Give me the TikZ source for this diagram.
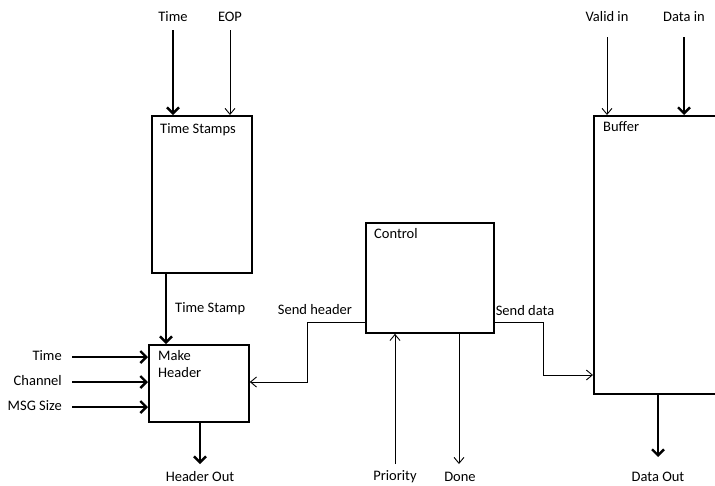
\documentclass[tikz,border=0pt]{standalone}
\usepackage{fontspec}
\setmainfont{Carlito}
\usetikzlibrary{arrows.meta}
\begin{document}
\begin{tikzpicture}[x=1pt,y=-1pt,
  every node/.style={font=\fontsize{14.5}{17}\selectfont, inner sep=0pt},
  block/.style={draw, line width=1.8pt, anchor=north west, inner sep=0pt},
  sig/.style={line width=0.9pt, -{Straight Barb[length=6pt,width=10pt,line width=0.9pt]}},
  bus/.style={line width=2.6pt, -{Straight Barb[length=6pt,width=12pt,line width=2.4pt]}},
  lbl/.style={anchor=center},
  intxt/.style={anchor=north west, align=left}]
\useasboundingbox (0,0) rectangle (715,485);
\begin{scope}
\clip (0,0) rectangle (715,485);

% blocks
\node[block, minimum width=100pt, minimum height=157pt] (ts) at (151,115) {};
\node[block, minimum width=100pt, minimum height=77pt] (mh) at (148,344) {};
\node[block, minimum width=128pt, minimum height=110pt] (ctl) at (365,222) {};
\node[block, minimum width=160pt, minimum height=278pt] (buf) at (593,115) {};

% block titles
\node[intxt] at (160,123) {Time Stamps};
\node[intxt, align=left] at (158,350) {Make\\[0pt]Header};
\node[intxt] at (374,228) {Control};
\node[intxt] at (603,121) {Buffer};

% Time Stamps inputs
\node[lbl] (tin) at (173,17) {Time};
\node[lbl] (eop) at (230,17) {EOP};
\coordinate (tinS) at (173,30);
\coordinate (eopS) at (230,30);
\draw[bus] (tinS) -- (tinS |- ts.north);
\draw[sig] (eopS) -- (eopS |- ts.north);

% Time Stamp link
\coordinate (tsx) at (166,272);
\draw[bus] (tsx) -- (tsx |- mh.north);
\node[anchor=west] (tsl) at (175,309) {Time Stamp};

% Make Header inputs
\node[anchor=east] (mt) at (62,356) {Time};
\node[anchor=east] (mc) at (62,381) {Channel};
\node[anchor=east] (ms) at (62,406) {MSG Size};
\coordinate (mtS) at (72,357);
\coordinate (mcS) at (72,382);
\coordinate (msS) at (72,407);
\draw[bus] (mtS) -- (mtS -| mh.west);
\draw[bus] (mcS) -- (mcS -| mh.west);
\draw[bus] (msS) -- (msS -| mh.west);

% Header Out
\node[lbl] (ho) at (200,477) {Header Out};
\coordinate (hoE) at (200,464);
\draw[bus] (hoE |- mh.south) -- (hoE);

% Control: send header
\coordinate (shA) at (365,322);
\coordinate (shB) at (307,322);
\coordinate (shC) at (307,382);
\draw[sig] (shA) -- (shB) -- (shC) -- (shC -| mh.east);
\node[lbl] (shl) at (315,310) {Send header};

% Control: send data
\coordinate (sdA) at (493,322);
\coordinate (sdB) at (543,322);
\coordinate (sdC) at (543,375);
\draw[sig] (sdA) -- (sdB) -- (sdC) -- (sdC -| buf.west);
\node[lbl] (sdl) at (525,311) {Send data};

% Priority and Done
\node[lbl] (pri) at (395,477) {Priority};
\node[lbl] (don) at (460,477) {Done};
\coordinate (priS) at (395,464);
\coordinate (donE) at (459,464);
\draw[sig] (priS) -- (priS |- ctl.south);
\draw[sig] (donE |- ctl.south) -- (donE);

% Buffer inputs
\node[lbl] (vin) at (607,17) {Valid in};
\node[lbl] (din) at (684,17) {Data in};
\coordinate (vinS) at (607,37);
\coordinate (dinS) at (684,37);
\draw[sig] (vinS) -- (vinS |- buf.north);
\draw[bus] (dinS) -- (dinS |- buf.north);

% Data Out
\node[lbl] (dout) at (658,477) {Data Out};
\coordinate (doE) at (658,457);
\draw[bus] (doE |- buf.south) -- (doE);
\end{scope}
\end{tikzpicture}
\end{document}
